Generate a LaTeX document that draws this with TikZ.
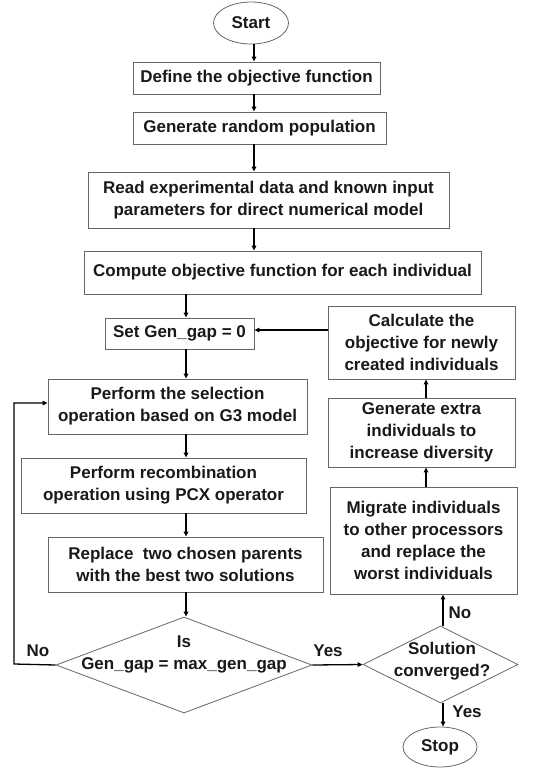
\documentclass[tikz,border=0pt]{standalone}
\usepackage{fontspec}
\setmainfont{Liberation Sans}
\usetikzlibrary{shapes.geometric,arrows.meta}
\begin{document}
\begin{tikzpicture}[x=1pt,y=-1pt,
  font=\fontsize{17}{22}\selectfont\bfseries,
  every node/.style={text=black!90},
  boxnode/.style={draw=black!60, line width=0.8pt, rectangle, inner sep=0pt, align=center},
  termnode/.style={draw=black!60, line width=0.8pt, ellipse, inner sep=0pt, align=center},
  decnode/.style={draw=black!60, line width=0.8pt, diamond, inner sep=0pt},
  flow/.style={draw=black, line width=1.3pt, -{Triangle[length=5pt,width=4.5pt]}},
  lbl/.style={inner sep=1pt}
]
\useasboundingbox (0,0) rectangle (556,772);
\node[termnode, minimum width=75pt, minimum height=42pt] (start) at (251,23) {Start};
\node[boxnode, minimum width=247pt, minimum height=32pt] (def) at (256.5,78) {Define the objective function};
\node[boxnode, minimum width=253pt, minimum height=32pt] (gen) at (259.5,128) {Generate random population};
\node[boxnode, minimum width=361pt, minimum height=56pt] (read) at (268.5,200) {Read experimental data and known input\\parameters for direct numerical model};
\node[boxnode, minimum width=397pt, minimum height=43pt] (comp) at (282.5,272.5) {Compute objective function for each individual};
\node[boxnode, minimum width=149pt, minimum height=31pt] (setg) at (179.5,333.5) {Set Gen\_gap = 0};
\node[boxnode, minimum width=259pt, minimum height=55pt] (sel) at (177.5,406.5) {Perform the selection\\operation based on G3 model};
\node[boxnode, minimum width=285pt, minimum height=55pt] (rec) at (163.5,485.5) {Perform recombination\\operation using PCX operator};
\node[boxnode, minimum width=275pt, minimum height=55pt] (rep) at (185.5,564.5) {Replace\ \ two chosen parents\\with the best two solutions};
\node[decnode, minimum width=256pt, minimum height=96pt] (d1) at (184,665) {};
\node[align=center] at (184,654) {Is\\Gen\_gap = max\_gen\_gap};
\node[decnode, minimum width=155pt, minimum height=77pt] (d2) at (440.5,664.5) {};
\node[align=center] at (442,661) {Solution\\converged?};
\node[termnode, minimum width=74pt, minimum height=40pt] (stop) at (440,747) {Stop};
\node[boxnode, minimum width=187pt, minimum height=107pt] (mig) at (423.5,540.5) {Migrate individuals\\to other processors\\and replace the\\worst individuals};
\node[boxnode, minimum width=187pt, minimum height=69pt] (extra) at (421.5,432.5) {Generate extra\\individuals to\\increase diversity};
\node[boxnode, minimum width=187pt, minimum height=73pt] (calc) at (421.5,342.5) {Calculate the\\objective for newly\\created individuals};
\coordinate (lp1) at (14,664);
\coordinate (lp2) at (14,403);

\draw[flow] (start.south -| 254,0) -- (def.north -| 254,0);
\draw[flow] (def.south -| 254,0) -- (gen.north -| 254,0);
\draw[flow] (gen.south -| 254,0) -- (read.north -| 254,0);
\draw[flow] (read.south -| 254,0) -- (comp.north -| 254,0);
\draw[flow] (comp.south -| 186,0) -- (setg.north -| 186,0);
\draw[flow] (setg.south -| 186,0) -- (sel.north -| 186,0);
\draw[flow] (sel.south -| 186,0) -- (rec.north -| 186,0);
\draw[flow] (rec.south -| 186,0) -- (rep.north -| 186,0);
\draw[flow] (rep.south -| 186,0) -- (d1.north -| 186,0);
\draw[flow] (d1.west) -- (lp1) -- (lp2) -- (sel.west |- lp2);
\draw[flow] (d1.east) -- (d2.west);
\draw[flow] (d2.north -| 443,0) -- (mig.south -| 443,0);
\draw[flow] (d2.south -| 443,0) -- (stop.north -| 443,0);
\draw[flow] (mig.north -| 426,0) -- (extra.south -| 426,0);
\draw[flow] (extra.north -| 426,0) -- (calc.south -| 426,0);
\draw[flow] (calc.west |- 0,330) -- (setg.east |- 0,330);

\node[lbl] at (38,651) {No};
\node[lbl] at (328,651) {Yes};
\node[lbl] at (460,613) {No};
\node[lbl] at (467,712) {Yes};
\end{tikzpicture}
\end{document}
